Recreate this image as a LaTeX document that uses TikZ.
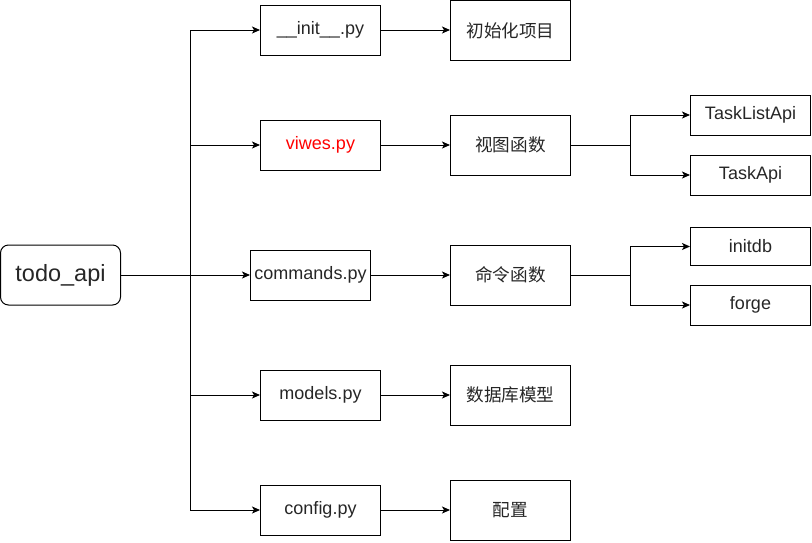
\documentclass[tikz,border=0pt]{standalone}
\usepackage{fontspec}
\setmainfont{Liberation Sans}
\newfontfamily\cjk{Noto Sans CJK SC}
\usetikzlibrary{arrows.meta}
\begin{document}
\begin{tikzpicture}[x=1pt,y=-1pt,
  box/.style={draw,line width=1pt,minimum width=120pt,minimum height=50pt,inner sep=0pt,font=\fontsize{18}{21}\selectfont,text=black!85},
  tallbox/.style={box,minimum height=60pt},
  smallbox/.style={box,minimum height=40pt},
  cjkbox/.style={tallbox,font=\cjk\fontsize{17.6}{21}\selectfont},
  arr/.style={line width=1pt,-{Stealth[length=8pt,width=7pt,inset=2pt]}},
  ln/.style={line width=1pt}]
\useasboundingbox (0,0) rectangle (812,542);
\node[box,rounded corners=8pt,minimum height=60pt,font=\fontsize{23.5}{27}\selectfont] (todo) at (60.5,275) {todo\_api};
\node[box] (init) at (320.5,30) {\_\_init\_\_.py};
\node[box,text=red] (viwes) at (320.5,145) {viwes.py};
\node[box] (cmd) at (310.5,275) {commands.py};
\node[box] (models) at (320.5,395) {models.py};
\node[box] (config) at (320.5,510) {config.py};
\node[cjkbox] (initc) at (510.5,30.5) {初始化项目};
\node[cjkbox] (view) at (510.5,145) {视图函数};
\node[cjkbox] (cmdf) at (510.5,275) {命令函数};
\node[cjkbox] (model) at (510.5,395) {数据库模型};
\node[cjkbox] (conf) at (510.5,510) {配置};
\node[smallbox] (tl) at (750.5,115) {TaskListApi};
\node[smallbox] (ta) at (750.5,175) {TaskApi};
\node[smallbox,minimum height=38pt] (idb) at (750.5,246.5) {initdb};
\node[smallbox] (forge) at (750.5,305) {forge};
\coordinate (j) at (190.5,275);
\coordinate (jv) at (630.5,145);
\coordinate (jc) at (630.5,275);
\draw[arr] (todo.east) -- (cmd.west);
\draw[arr] (j) |- (init.west);
\draw[arr] (j) |- (viwes.west);
\draw[arr] (j) |- (models.west);
\draw[arr] (j) |- (config.west);
\draw[arr] (init.east) -- (initc.west |- init.east);
\draw[arr] (viwes.east) -- (view.west);
\draw[arr] (cmd.east) -- (cmdf.west);
\draw[arr] (models.east) -- (model.west);
\draw[arr] (config.east) -- (conf.west);
\draw[ln] (view.east) -- (jv);
\draw[arr] (jv) |- (tl.west);
\draw[arr] (jv) |- (ta.west);
\draw[ln] (cmdf.east) -- (jc);
\draw[arr] (jc) |- (idb.west);
\draw[arr] (jc) |- (forge.west);
\end{tikzpicture}
\end{document}
